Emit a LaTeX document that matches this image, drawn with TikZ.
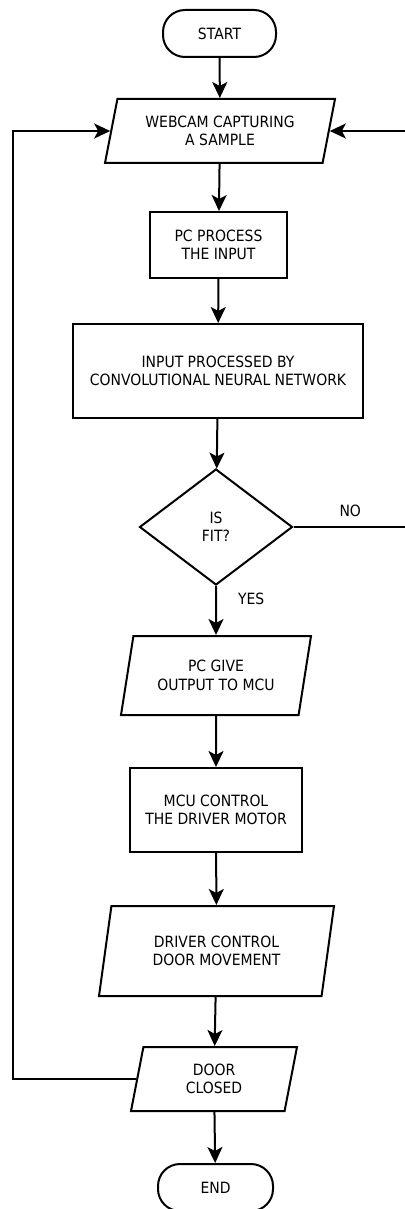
\documentclass[tikz,border=0pt]{standalone}
\usepackage{fontspec}
\setmainfont{DejaVu Sans}[FakeStretch=0.9]
\usetikzlibrary{positioning}
\usetikzlibrary{shapes.geometric}
\usetikzlibrary {arrows.meta}
\tikzset{flowterm/.style={rectangle,rounded corners=22pt,draw=black,fill=white,
line width=2pt,minimum height=47pt, minimum width=113pt}}
\tikzset{flowbox/.style={rectangle,draw=black,fill=white,
line width=2pt,inner sep=2pt,align=center}}
\tikzset{flowio/.style={trapezium,trapezium left angle=70,trapezium right angle=110,
trapezium stretches body=true,draw=black,fill=white,line width=2pt,inner sep=2pt,align=center}}
\tikzset{flowdec/.style={diamond,draw=black,fill=white,line width=2pt,inner sep=0pt,
aspect=1.3,minimum width=153pt,minimum height=116pt,align=center}}
\tikzset{flowline/.style={line width=2pt,-{Stealth[length=16pt,width=15pt,inset=4pt]}}}
\tikzset{flowlbl/.style={inner sep=1pt}}

\begin{document}
\begin{tikzpicture}[x=1pt,y=-1pt,font=\fontsize{15.5pt}{18.4pt}\selectfont]
    \useasboundingbox (0,0) rectangle (404,1209);

    \node[flowterm] (start) at (219.5,33.5) {START};
    \node[flowio, minimum width=230pt, minimum height=64pt] (webcam) at (220,131) {WEBCAM CAPTURING\\A SAMPLE};
    \node[flowbox, minimum width=137pt, minimum height=66pt] (pcproc) at (218.5,245) {PC PROCESS\\THE INPUT};
    \node[flowbox, minimum width=290pt, minimum height=94pt] (cnn) at (218,371) {INPUT PROCESSED BY\\CONVOLUTIONAL NEURAL NETWORK};
    \node[flowdec] (fit) at (216,527) {IS\\FIT?};
    \node[flowio, minimum width=190pt, minimum height=79pt] (pcgive) at (216,675.5) {PC GIVE\\OUTPUT TO MCU};
    \node[flowbox, minimum width=172pt, minimum height=84pt] (mcu) at (216,810) {MCU CONTROL\\THE DRIVER MOTOR};
    \node[flowio, minimum width=235pt, minimum height=90pt] (driver) at (216.5,951) {DRIVER CONTROL\\DOOR MOVEMENT};
    \node[flowio, minimum width=166pt, minimum height=64pt] (door) at (214,1079) {DOOR\\CLOSED};
    \node[flowterm, minimum width=115pt] (end) at (215.5,1187.5) {END};

    \coordinate (backL) at (13,0);
    \coordinate (backR) at (407,0);

    \draw[flowline] (start) -- (webcam);
    \draw[flowline] (webcam) -- (pcproc);
    \draw[flowline] (pcproc) -- (cnn);
    \draw[flowline] (cnn) -- (fit);
    \draw[flowline] (fit) -- node[flowlbl, pos=0.27, right=20pt] {YES} (pcgive);
    \draw[flowline] (pcgive) -- (mcu);
    \draw[flowline] (mcu) -- (driver);
    \draw[flowline] (driver) -- (door);
    \draw[flowline] (door) -- (end);

    \draw[flowline] (fit.east) -- node[flowlbl, above=8pt] {NO} (fit.east -| backR) |- (webcam.right side);
    \draw[flowline] (door.left side) -- (door.left side -| backL) |- (webcam.left side);

\end{tikzpicture}
\end{document}
